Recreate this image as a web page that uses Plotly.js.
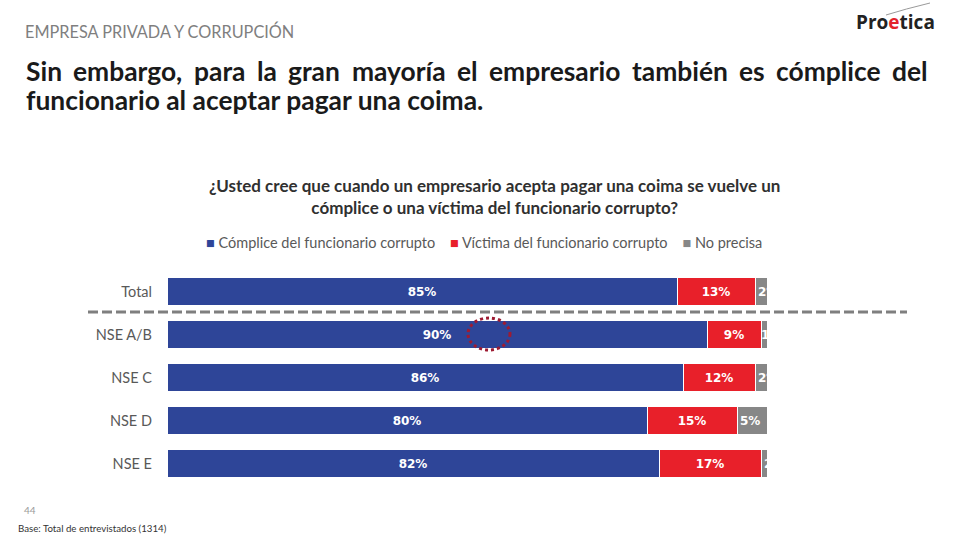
<!DOCTYPE html>
<html><head><meta charset="utf-8">
<script src="https://cdn.plot.ly/plotly-3.0.1.min.js"></script>
<style>html,body{margin:0;padding:0;background:#fff}#chart{width:960px;height:540px}</style>
</head><body><div id="chart"></div>
<script>
// ---- data ----
const categories = ['Total', 'NSE A/B', 'NSE C', 'NSE D', 'NSE E'];
const seriesNames = ['Cómplice del funcionario corrupto', 'Víctima del funcionario corrupto', 'No precisa'];
const complice = [85, 90, 86, 80, 82];
const victima = [13, 9, 12, 15, 17];
const noPrecisa = [2, 1, 2, 5, 2];
const seriesValues = [complice, victima, noPrecisa];
const seriesColors = ['#2E4598', '#E8202A', '#878787'];

const pageTitle = 'EMPRESA PRIVADA Y CORRUPCIÓN';
const headline1 = 'Sin embargo, para la gran mayoría el empresario también es cómplice del';
const headline2 = 'funcionario al aceptar pagar una coima.';
const question = '¿Usted cree que cuando un empresario acepta pagar una coima se vuelve un<br>cómplice o una víctima del funcionario corrupto?';
const pageNumber = '44';
const baseNote = 'Base: Total de entrevistados (1314)';

// ---- layout geometry (pixels) ----
const W = 960, H = 540;
const M = {l: 167, r: 193, t: 270, b: 55};
const pw = W - M.l - M.r, ph = H - M.t - M.b;
const px = x => (x - M.l) / pw;
const py = y => (H - M.b - y) / ph;

const traces = seriesValues.map((vals, i) => ({
  type: 'bar', orientation: 'h',
  name: seriesNames[i],
  y: categories, x: vals,
  marker: {color: seriesColors[i], line: {color: '#ffffff', width: 1}},
  texttemplate: '%{x}%',
  textposition: 'inside',
  insidetextanchor: i === 2 ? 'start' : 'middle',
  textangle: 0,
  constraintext: 'none',
  cliponaxis: true,
  textfont: {family: 'DejaVu Sans', size: 12, color: '#ffffff', weight: 'bold'},
  hoverinfo: 'skip',
  showlegend: false
}));

// justified headline line 1
const hlSize = 26.4;
const hlFont = {family: 'Lato', size: hlSize, color: '#1a1a1a', weight: 'bold'};
const cv = document.createElement('canvas').getContext('2d');
cv.font = 'bold ' + hlSize + 'px Lato';
const words = headline1.split(' ');
const widths = words.map(w => cv.measureText(w).width);
const left = 25, right = 927;
const gap = (right - left - widths.reduce((a, b) => a + b, 0)) / (words.length - 1);
const annotations = [];
let cx = left;
words.forEach((w, i) => {
  annotations.push({xref: 'paper', yref: 'paper', x: px(cx), y: py(71), xanchor: 'left', yanchor: 'middle',
    text: w, showarrow: false, font: hlFont, borderpad: 0});
  cx += widths[i] + gap;
});
annotations.push({xref: 'paper', yref: 'paper', x: px(25), y: py(100), xanchor: 'left', yanchor: 'middle',
  text: headline2, showarrow: false, font: hlFont, borderpad: 0});

annotations.push({xref: 'paper', yref: 'paper', x: px(24), y: py(31), xanchor: 'left', yanchor: 'middle',
  text: pageTitle, showarrow: false, font: {family: 'Lato', size: 16.3, color: '#7f7f7f'}, borderpad: 0});

annotations.push({xref: 'paper', yref: 'paper', x: px(494), y: py(196), xanchor: 'center', yanchor: 'middle',
  text: question, showarrow: false, align: 'center', font: {family: 'Lato', size: 17, color: '#303030', weight: 'bold'}, borderpad: 0});

// legend row
const legendText = seriesNames.map((n, i) =>
  `<span style="color:${seriesColors[i]}">■</span> ${n}`).join('    ');
annotations.push({xref: 'paper', yref: 'paper', x: px(484), y: py(242), xanchor: 'center', yanchor: 'middle',
  text: legendText, showarrow: false, font: {family: 'Lato', size: 14.5, color: '#595959'}, borderpad: 0});

annotations.push({xref: 'paper', yref: 'paper', x: px(30), y: py(510), xanchor: 'center', yanchor: 'middle',
  text: pageNumber, showarrow: false, font: {family: 'Lato', size: 10, color: '#9a9a9a'}, borderpad: 0});
annotations.push({xref: 'paper', yref: 'paper', x: px(17), y: py(528), xanchor: 'left', yanchor: 'middle',
  text: baseNote, showarrow: false, font: {family: 'Lato', size: 9.7, color: '#333333'}, borderpad: 0});

// logo
annotations.push({xref: 'paper', yref: 'paper', x: px(895), y: py(22), xanchor: 'center', yanchor: 'middle',
  text: 'Pro<span style="color:#E3232C">e</span>tica', showarrow: false,
  font: {family: 'Open Sans', size: 19, color: '#222222', weight: 'bold'}, borderpad: 0});

const shapes = [
  {type: 'line', xref: 'paper', yref: 'paper', x0: px(88), x1: px(907), y0: py(312), y1: py(312),
   line: {color: '#7f7f7f', width: 3, dash: '10px,4px'}},
  {type: 'circle', xref: 'paper', yref: 'paper', x0: px(468), x1: px(510), y0: py(350), y1: py(318),
   line: {color: '#9E1B32', width: 3, dash: 'dot'}},
  {type: 'path', xref: 'paper', yref: 'paper',
   path: `M ${px(886)} ${py(15)} Q ${px(905)} ${py(9)} ${px(930)} ${py(3)}`,
   line: {color: '#9a9a9a', width: 1}}
];

const layout = {
  width: W, height: H,
  margin: M,
  paper_bgcolor: '#ffffff', plot_bgcolor: '#ffffff',
  barmode: 'stack', bargap: 0.36,
  showlegend: false,
  xaxis: {range: [0, 100], visible: false, fixedrange: true},
  yaxis: {autorange: 'reversed', showgrid: false, zeroline: false, showline: false, ticks: '',
          ticklabelstandoff: 14,
          tickfont: {family: 'Lato', size: 14.5, color: '#595959'}},
  annotations: annotations,
  shapes: shapes
};

Plotly.newPlot('chart', traces, layout, {displayModeBar: false, staticPlot: true});
</script>
</body></html>
